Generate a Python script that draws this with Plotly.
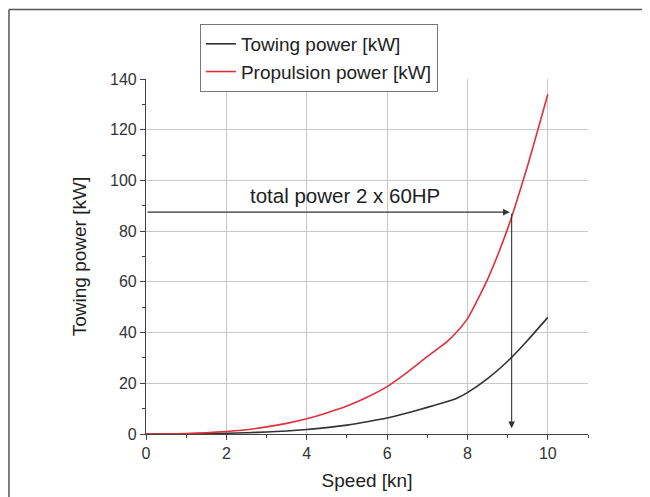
import plotly.graph_objects as go

speed = [0, 0.5, 1, 1.5, 2, 2.5, 3, 3.5, 4, 4.5, 5, 5.5, 6, 6.5, 7, 7.5, 7.75, 8, 8.5, 9, 9.5, 10]
towing = [0, 0.02, 0.05, 0.15, 0.3, 0.5, 0.8, 1.2, 1.8, 2.5, 3.5, 4.8, 6.3, 8.3, 10.5, 12.8, 14.2, 16.3, 21.8, 28.7, 37, 46]
propulsion = [0, 0.05, 0.2, 0.5, 1.0, 1.7, 2.8, 4.2, 6.0, 8.3, 11, 14.5, 18.7, 24.3, 30.5, 36.5, 40.5, 45.5, 61, 81, 106, 134]

x_ticks = [0, 2, 4, 6, 8, 10]
y_ticks = [0, 20, 40, 60, 80, 100, 120, 140]

limit_power = 87.5
limit_speed = 9.1
note = "total power 2 x 60HP"

FONT = "Liberation Sans, Arial, sans-serif"

fig = go.Figure()
fig.add_trace(go.Scatter(x=speed, y=towing, mode="lines", name="Towing power [kW]",
                         line=dict(color="#333333", width=1.6, shape="spline", smoothing=0.6)))
fig.add_trace(go.Scatter(x=speed, y=propulsion, mode="lines", name="Propulsion power [kW]",
                         line=dict(color="#e0303c", width=1.6, shape="spline", smoothing=0.6)))

# arrows
fig.add_annotation(x=limit_speed - 0.05, y=limit_power, ax=0, ay=limit_power,
                   xref="x", yref="y", axref="x", ayref="y", text="",
                   showarrow=True, arrowhead=2, arrowsize=1.2, arrowwidth=1.1, arrowcolor="#333333")
fig.add_annotation(x=limit_speed, y=2.3, ax=limit_speed, ay=limit_power,
                   xref="x", yref="y", axref="x", ayref="y", text="",
                   showarrow=True, arrowhead=2, arrowsize=1.2, arrowwidth=1.1, arrowcolor="#333333")
fig.add_annotation(x=4.95, y=94, xref="x", yref="y", text=note, showarrow=False,
                   font=dict(family=FONT, size=20.5, color="#222222"))

# outer frame (top and left)
fig.add_shape(type="line", xref="paper", yref="paper", x0=-0.31, x1=1.2, y0=1.196, y1=1.196,
              line=dict(color="#555555", width=1.5))
fig.add_shape(type="line", xref="paper", yref="paper", x0=-0.31, x1=-0.31, y0=1.196, y1=-0.2,
              line=dict(color="#555555", width=1.5))

fig.update_layout(
    width=642, height=489,
    margin=dict(l=138, r=62, t=71, b=63),
    paper_bgcolor="white", plot_bgcolor="white",
    font=dict(family=FONT, size=16, color="#222222"),
    showlegend=True,
    legend=dict(x=0.122, y=1.155, xanchor="left", yanchor="top",
                bordercolor="#777777", borderwidth=1, bgcolor="white",
                font=dict(family=FONT, size=19, color="#222222"),
                tracegroupgap=0, itemwidth=30),
)
fig.update_xaxes(range=[0, 11], tickvals=x_ticks, ticktext=[str(v) for v in x_ticks],
                 automargin=False,
                 showgrid=True, gridcolor="#c8c8c8", gridwidth=1,
                 showline=True, linecolor="#444444", linewidth=1.2,
                 ticks="outside", ticklen=5, tickcolor="#444444",
                 minor=dict(ticks="outside", ticklen=3, dtick=1, tick0=0, tickcolor="#444444", showgrid=False),
                 zeroline=False,
                 title=dict(text="Speed [kn]", font=dict(family=FONT, size=19, color="#222222"), standoff=12),
                 tickfont=dict(size=16, color="#333333"))
fig.update_yaxes(range=[0, 140], tickvals=y_ticks, ticktext=[str(v) for v in y_ticks],
                 automargin=False,
                 showgrid=True, gridcolor="#c8c8c8", gridwidth=1,
                 showline=True, linecolor="#444444", linewidth=1.2,
                 ticks="outside", ticklen=5, tickcolor="#444444",
                 minor=dict(ticks="outside", ticklen=3, dtick=10, tick0=0, tickcolor="#444444", showgrid=False),
                 zeroline=False,
                 title=dict(text="Towing power [kW]", font=dict(family=FONT, size=19, color="#222222"), standoff=18),
                 tickfont=dict(size=16, color="#333333"))

fig.write_html("out.html")
